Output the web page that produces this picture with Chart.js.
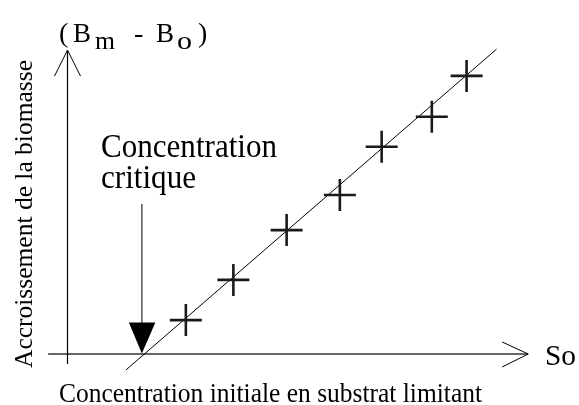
<!DOCTYPE html>
<html>
<head>
<meta charset="utf-8">
<script src="https://cdn.jsdelivr.net/npm/chart.js@4"></script>
<style>
  html, body { margin: 0; padding: 0; background: #fff; }
</style>
</head>
<body>
<canvas id="growthChart" width="579" height="405"></canvas>
<script>
// Initial substrate concentration (So) vs biomass increase (Bm - Bo)
const soValues = [2.69, 3.77, 4.98, 6.19, 7.14, 8.28, 9.07];
const growthValues = [1.13, 2.47, 4.13, 5.30, 6.91, 7.91, 9.27];

// End points of the fitted straight line
const fitSo = [1.33, 9.75];
const fitGrowth = [-0.53, 10.16];

// Critical concentration, marked on the So axis
const criticalSo = 1.69;

const FONT = '"Liberation Serif", "Times New Roman", serif';
const INK = '#000';

// fillText, optionally squeezed to a given width
function drawText(ctx, text, x, y, size, width) {
    ctx.font = size + 'px ' + FONT;
    const w = ctx.measureText(text).width;
    ctx.save();
    ctx.translate(x, y);
    if (width) ctx.scale(width / w, 1);
    ctx.fillText(text, 0, 0);
    ctx.restore();
}

function line(ctx, x1, y1, x2, y2) {
    ctx.beginPath();
    ctx.moveTo(x1, y1);
    ctx.lineTo(x2, y2);
    ctx.stroke();
}

// Axes with open arrow heads, plus the labels
const axesPlugin = {
    id: 'arrowAxes',
    beforeDatasetsDraw(chart) {
        const { ctx, scales: { x, y } } = chart;
        const x0 = x.getPixelForValue(0);
        const y0 = y.getPixelForValue(0);
        const xEnd = x.getPixelForValue(10.47);
        const yEnd = y.getPixelForValue(10.13);

        ctx.save();
        // So axis
        ctx.strokeStyle = '#666';
        ctx.lineWidth = 2;
        line(ctx, x.getPixelForValue(-0.44), y0, xEnd, y0);
        ctx.strokeStyle = '#000';
        ctx.lineWidth = 1;
        line(ctx, xEnd - 26, y0 - 12, xEnd, y0);
        line(ctx, xEnd, y0, xEnd - 26, y0 + 13);

        // Bm - Bo axis
        ctx.lineWidth = 1.2;
        line(ctx, x0, y.getPixelForValue(-0.33), x0, yEnd);
        ctx.lineWidth = 1;
        line(ctx, x0 - 13, yEnd + 26, x0, yEnd);
        line(ctx, x0, yEnd, x0 + 13, yEnd + 26);
        ctx.restore();
    },
    afterDraw(chart) {
        const { ctx, scales: { x, y } } = chart;
        const cx = x.getPixelForValue(criticalSo);
        const y0 = y.getPixelForValue(0);

        ctx.save();
        // arrow pointing at the critical concentration
        ctx.strokeStyle = '#555';
        ctx.lineWidth = 1.5;
        line(ctx, cx, 204, cx, y0 - 30);
        ctx.fillStyle = '#000';
        ctx.beginPath();
        ctx.moveTo(cx - 13, y0 - 31.5);
        ctx.lineTo(cx + 13.5, y0 - 31.5);
        ctx.lineTo(cx, y0 - 0.5);
        ctx.closePath();
        ctx.fill();

        ctx.fillStyle = INK;
        ctx.textBaseline = 'alphabetic';
        ctx.textAlign = 'left';

        // (Bm - Bo)
        drawText(ctx, '(', 59, 42, 28);
        drawText(ctx, 'B', 73, 42, 28, 18);
        drawText(ctx, 'm', 95, 49, 25, 20);
        drawText(ctx, '-', 134, 42, 28);
        drawText(ctx, 'B', 156, 42, 28, 18);
        drawText(ctx, 'o', 177, 49, 25, 15);
        drawText(ctx, ')', 198, 42, 28);

        drawText(ctx, 'Concentration', 101, 157, 33, 176);
        drawText(ctx, 'critique', 101, 188, 33, 95);

        drawText(ctx, 'So', 545, 365, 30, 31);
        drawText(ctx, 'Concentration initiale en substrat limitant', 59, 402, 27, 423);

        ctx.save();
        ctx.translate(32, 368);
        ctx.rotate(-Math.PI / 2);
        drawText(ctx, 'Accroissement de la biomasse', 0, 0, 26, 308);
        ctx.restore();

        ctx.restore();
    }
};

const points = soValues.map((v, i) => ({ x: v, y: growthValues[i] }));
const fitLine = fitSo.map((v, i) => ({ x: v, y: fitGrowth[i] }));

function drawChart() {
    new Chart(document.getElementById('growthChart').getContext('2d'), {
        type: 'scatter',
        data: {
            datasets: [{
                label: 'Mesures',
                data: points,
                pointStyle: 'cross',
                pointRadius: 16,
                pointHoverRadius: 16,
                borderColor: '#1a1a1a',
                borderWidth: 2.6,
                showLine: false
            }, {
                label: 'Droite',
                data: fitLine,
                showLine: true,
                pointRadius: 0,
                borderColor: '#000',
                borderWidth: 1,
                clip: false
            }]
        },
        options: {
            responsive: false,
            animation: false,
            devicePixelRatio: 1,
            layout: {
                padding: { left: 45.5, right: 49.5, top: 39, bottom: 36 }
            },
            plugins: {
                legend: { display: false },
                tooltip: { enabled: false }
            },
            scales: {
                x: { type: 'linear', min: -0.5, max: 10.5, display: false },
                y: { type: 'linear', min: -0.5, max: 10.5, display: false }
            }
        },
        plugins: [axesPlugin]
    });
}

// make sure the serif face is ready before the canvas text is drawn
document.fonts.load('25px "Liberation Serif"').then(drawChart, drawChart);
</script>
</body>
</html>
